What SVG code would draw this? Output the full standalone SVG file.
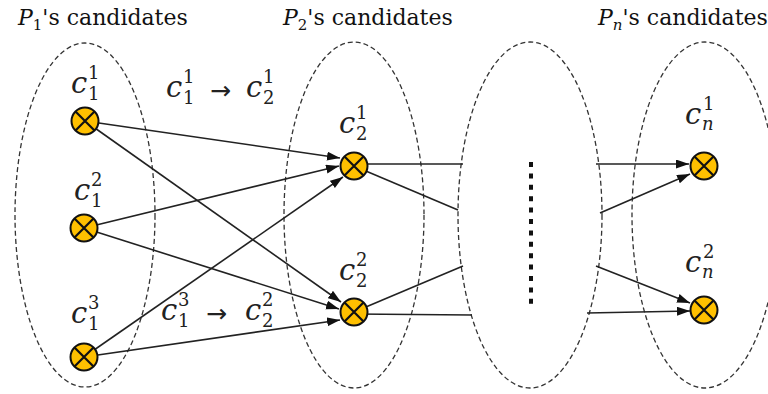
<svg xmlns="http://www.w3.org/2000/svg" width="768" height="394" viewBox="0 0 768 394">
<style>
.ell{fill:none;stroke:#333;stroke-width:1.3;stroke-dasharray:5 3}
.con{stroke:#222;stroke-width:1.6;fill:none}
.arr{marker-end:url(#ah)}
.nd{fill:#FFC000;stroke:#111;stroke-width:2}
.x{stroke:#111;stroke-width:2.2}
.dots{stroke:#111;stroke-width:4;stroke-dasharray:5 6.4}
.t{font-family:"DejaVu Serif","Liberation Serif",serif;font-size:22px;fill:#111}
.l{font-family:"DejaVu Serif","Liberation Serif",serif;font-size:29px;font-style:italic;fill:#222}
.n{font-size:18px;font-style:normal}
.ni{font-size:18px;font-style:italic}
.a{font-family:"DejaVu Sans",sans-serif;font-size:25px;font-style:normal}
</style>
<defs>
<marker id="ah" markerUnits="userSpaceOnUse" markerWidth="14" markerHeight="10" refX="13" refY="4.5" orient="auto">
<path d="M0,0 L13,4.5 L0,9 z" fill="#111"/>
</marker>
<g id="node">
<circle class="nd" r="13.5"/>
<path class="x" d="M-9.5,-9.5 L9.5,9.5 M9.5,-9.5 L-9.5,9.5"/>
</g>
</defs>
<rect width="768" height="394" fill="#fff"/>
<g id="titles">
<text class="t" x="18" y="25"><tspan font-style="italic">P</tspan><tspan font-size="15" dy="5">1</tspan><tspan dy="-5">'s candidates</tspan></text>
<text class="t" x="283" y="25"><tspan font-style="italic">P</tspan><tspan font-size="15" dy="5">2</tspan><tspan dy="-5">'s candidates</tspan></text>
<text class="t" x="598" y="25"><tspan font-style="italic">P</tspan><tspan font-size="15" dy="5" font-style="italic">n</tspan><tspan dy="-5">'s candidates</tspan></text>
</g>
<g id="groups">
<ellipse id="group1" class="ell" cx="85" cy="215" rx="70" ry="172"/>
<ellipse id="group2" class="ell" cx="354" cy="215" rx="70" ry="173"/>
<ellipse id="groupmid" class="ell" cx="530" cy="215" rx="72" ry="173"/>
<ellipse id="groupn" class="ell" cx="705" cy="215" rx="73" ry="173"/>
<line class="dots" x1="531" y1="162" x2="531" y2="304"/>
</g>
<g id="connectors">
<line class="con arr" x1="85" y1="121" x2="340" y2="158"/>
<line class="con arr" x1="85" y1="121" x2="341" y2="302"/>
<line class="con arr" x1="84" y1="228" x2="339" y2="166"/>
<line class="con arr" x1="84" y1="228" x2="339" y2="309"/>
<line class="con arr" x1="84" y1="357" x2="343" y2="177"/>
<line class="con arr" x1="84" y1="357" x2="340" y2="320"/>
<line class="con" x1="354" y1="164" x2="463" y2="164"/>
<line class="con" x1="354" y1="166" x2="458" y2="210"/>
<line class="con" x1="354" y1="312" x2="463" y2="266"/>
<line class="con" x1="354" y1="314" x2="472" y2="315"/>
<line class="con arr" x1="596" y1="164" x2="689" y2="164"/>
<line class="con arr" x1="600" y1="213" x2="690" y2="174"/>
<line class="con arr" x1="596" y1="266" x2="690" y2="303"/>
<line class="con arr" x1="587" y1="313" x2="690" y2="311"/>
</g>
<g id="c1_1"><use href="#node" x="85" y="121"/>
<text class="l" x="71" y="93">c<tspan class="n" x="88" y="79">1</tspan><tspan class="n" x="88" y="100">1</tspan></text></g>
<g id="c1_2"><use href="#node" x="84" y="228"/>
<text class="l" x="74" y="200">c<tspan class="n" x="91" y="186">2</tspan><tspan class="n" x="91" y="207">1</tspan></text></g>
<g id="c1_3"><use href="#node" x="84" y="357"/>
<text class="l" x="71" y="323">c<tspan class="n" x="88" y="309">3</tspan><tspan class="n" x="88" y="330">1</tspan></text></g>
<g id="c2_1"><use href="#node" x="354" y="166"/>
<text class="l" x="339" y="133">c<tspan class="n" x="356" y="119">1</tspan><tspan class="n" x="356" y="140">2</tspan></text></g>
<g id="c2_2"><use href="#node" x="354" y="312"/>
<text class="l" x="339" y="280">c<tspan class="n" x="356" y="266">2</tspan><tspan class="n" x="356" y="287">2</tspan></text></g>
<g id="cn_1"><use href="#node" x="704" y="166"/>
<text class="l" x="685" y="124">c<tspan class="n" x="703" y="110">1</tspan><tspan class="ni" x="702" y="130">n</tspan></text></g>
<g id="cn_2"><use href="#node" x="704" y="310"/>
<text class="l" x="685" y="272">c<tspan class="n" x="703" y="258">2</tspan><tspan class="ni" x="702" y="278">n</tspan></text></g>
<g id="edge_labels">
<text class="l" x="166" y="97">c<tspan class="n" x="183" y="83">1</tspan><tspan class="n" x="183" y="104">1</tspan><tspan class="a" x="210" y="99">→</tspan><tspan x="246" y="97">c</tspan><tspan class="n" x="263" y="83">1</tspan><tspan class="n" x="263" y="104">2</tspan></text>
<text class="l" x="161" y="320">c<tspan class="n" x="178" y="306">3</tspan><tspan class="n" x="178" y="327">1</tspan><tspan class="a" x="206" y="322">→</tspan><tspan x="245" y="320">c</tspan><tspan class="n" x="262" y="306">2</tspan><tspan class="n" x="262" y="327">2</tspan></text>
</g>
</svg>
